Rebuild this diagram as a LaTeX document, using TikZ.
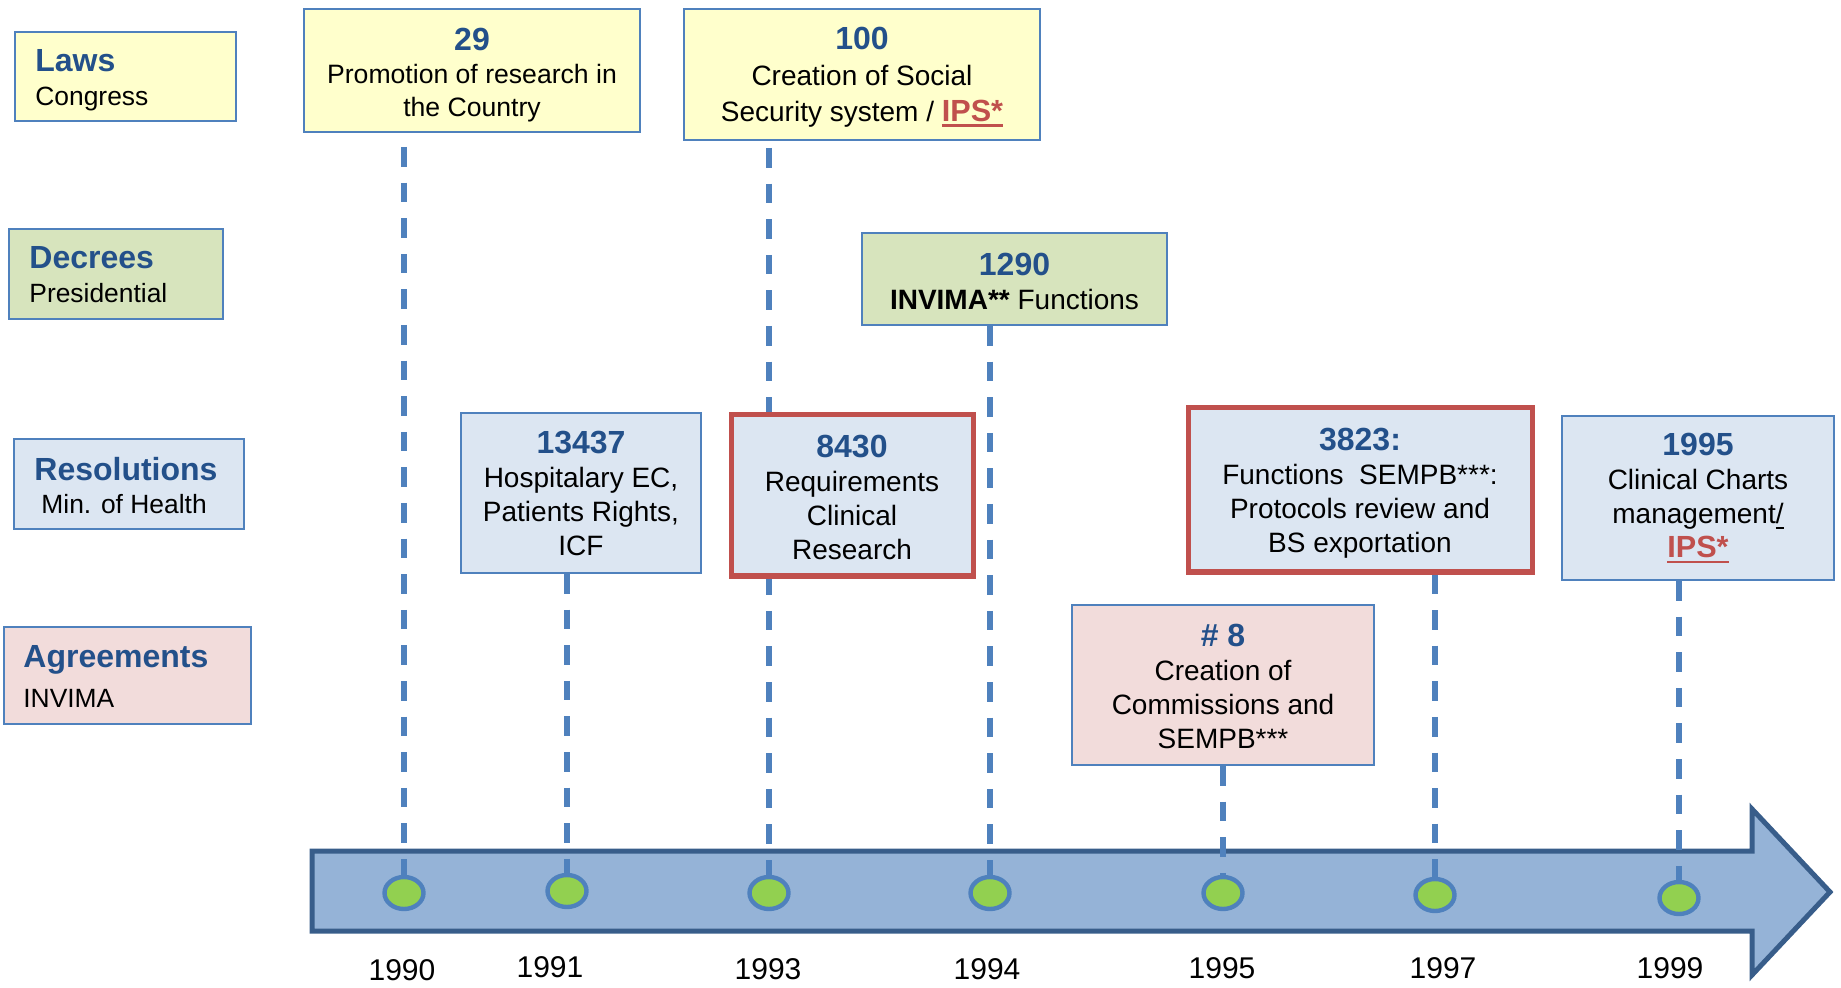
\documentclass[tikz,border=0pt]{standalone}
\usepackage{fontspec}
\setmainfont{Liberation Sans}
\usetikzlibrary{shapes.geometric}
\definecolor{lawfill}{HTML}{FFFFCC}
\definecolor{decfill}{HTML}{D7E4BD}
\definecolor{resfill}{HTML}{DCE6F2}
\definecolor{agrfill}{HTML}{F2DCDB}
\definecolor{boxline}{HTML}{4F81BD}
\definecolor{boxred}{HTML}{C0504D}
\definecolor{titleblue}{HTML}{23508A}
\definecolor{arrowfill}{HTML}{95B3D7}
\definecolor{arrowline}{HTML}{385D8A}
\definecolor{dotgreen}{HTML}{92D050}
\newcommand\numf[1]{{\fontsize{16}{17}\selectfont\bfseries\color{titleblue}#1}}
\newcommand\ulmark[1]{\setbox0\hbox{#1}\rlap{\rule[-2.8pt]{\wd0}{1.3pt}}\box0}
\newcommand\ipsmark{{\color{boxred}\fontsize{15.3}{17}\selectfont\bfseries\ulmark{IPS*}}}
\pgfdeclarelayer{bg}
\pgfdeclarelayer{mid}
\pgfsetlayers{bg,mid,main}
\tikzset{
  catbox/.style={draw=boxline, line width=1pt, inner sep=0pt},
  cattitle/.style={anchor=base west, inner sep=0pt, font=\fontsize{16}{18}\selectfont\bfseries, text=titleblue},
  catsub/.style={anchor=base west, inner sep=0pt, font=\fontsize{13.2}{16}\selectfont},
  evbox/.style={draw=boxline, line width=1pt, inner sep=0pt},
  redbox/.style={evbox, draw=boxred, line width=2.5pt},
  evtext/.style={inner sep=0pt, align=center, font=\fontsize{14}{17}\selectfont},
  dashline/.style={draw=boxline, line width=2.6pt, dash pattern=on 9.8pt off 8pt},
  dot/.style={ellipse, draw=boxline, fill=dotgreen, line width=2.2pt, minimum width=19.5pt, minimum height=16pt, inner sep=0pt},
  yearlbl/.style={anchor=base, inner sep=0pt, font=\fontsize{15}{17}\selectfont},
  timeline/.style={draw=arrowline, fill=arrowfill, line width=2.5pt, line join=miter}
}
\begin{document}
\begin{tikzpicture}[x=0.5pt, y=-0.5pt]
\useasboundingbox (0,0) rectangle (1841,988);
% timeline arrow
\begin{pgfonlayer}{bg}
\draw[timeline] (312,851) -- (1752,851) -- (1752,809) -- (1830,892) -- (1752,975) -- (1752,931) -- (312,931) -- cycle;
\end{pgfonlayer}
% category boxes
\node[catbox, fill=lawfill, minimum width=110.5pt, minimum height=44.5pt] (cLaws) at (125.5,76.5) {};
\node[cattitle] (tLaws) at (35,72) {Laws};
\node[catsub] (sLaws) at (35,106) {Congress};
\node[catbox, fill=decfill, minimum width=107pt, minimum height=45pt] (cDec) at (116,274) {};
\node[cattitle] (tDec) at (29,269) {Decrees};
\node[catsub] (sDec) at (29,303) {Presidential};
\node[catbox, fill=resfill, minimum width=115pt, minimum height=45pt] (cRes) at (129,484) {};
\node[cattitle] (tRes) at (34,481) {Resolutions};
\node[catsub] (sRes) at (41,514) {Min. of Health};
\node[catbox, fill=agrfill, minimum width=123.5pt, minimum height=48.5pt] (cAgr) at (127.5,675.5) {};
\node[cattitle] (tAgr) at (23,667) {Agreements};
\node[catsub] (sAgr) at (23,707) {INVIMA};
% event boxes
\node[evbox, fill=lawfill, minimum width=168pt, minimum height=61.5pt] (b29) at (472,70.5) {};
\node[evtext, font=\fontsize{13.3}{16.5}\selectfont] (t29) at (472,75.5)
  {\numf{29}\\Promotion of research in\\the Country};
\node[evbox, fill=lawfill, minimum width=178pt, minimum height=65.5pt] (b100) at (862,74.5) {};
\node[evtext, font=\fontsize{14}{18}\selectfont] (t100) at (862,77)
  {\numf{100}\\Creation of Social\\Security system / \ipsmark};
\node[evbox, fill=decfill, minimum width=152.5pt, minimum height=46pt] (b1290) at (1014.5,279) {};
\node[evtext] (t1290) at (1014.5,281.5)
  {\numf{1290}\\\textbf{INVIMA**} Functions};
\node[evbox, fill=resfill, minimum width=120pt, minimum height=80pt] (b13437) at (581,493) {};
\node[evtext] (t13437) at (581,493.5)
  {\numf{13437}\\Hospitalary EC,\\Patients Rights,\\ICF};
\node[redbox, fill=resfill, minimum width=121pt, minimum height=80.5pt] (b8430) at (852,495.5) {};
\node[evtext] (t8430) at (852,497)
  {\numf{8430}\\Requirements\\Clinical\\Research};
\node[redbox, fill=resfill, minimum width=172pt, minimum height=82pt] (b3823) at (1360,490) {};
\node[evtext] (t3823) at (1360,493.5)
  {\numf{3823:}\\Functions\ \ SEMPB***:\\Protocols review and\\BS exportation};
\node[evbox, fill=resfill, minimum width=136pt, minimum height=82pt] (b1995) at (1698,498) {};
\node[evtext] (t1995) at (1698,498.5)
  {\numf{1995}\\Clinical Charts\\management\ulmark{/}\\\ipsmark};
\node[evbox, fill=agrfill, minimum width=151pt, minimum height=80pt] (b8) at (1223,685) {};
\node[evtext] (t8) at (1223,686)
  {\numf{\# 8}\\Creation of\\Commissions and\\SEMPB***};
% dots
\node[dot] (d1990) at (404,893) {};
\node[dot] (d1991) at (567,891) {};
\node[dot] (d1993) at (769,893) {};
\node[dot] (d1994) at (990,893) {};
\node[dot] (d1995) at (1223,893) {};
\node[dot] (d1997) at (1435,895) {};
\node[dot] (d1999) at (1679,898) {};
% connectors
\begin{pgfonlayer}{mid}
\draw[dashline, shorten <=7pt] (d1990.north |- b29.south) -- (d1990.north);
\draw[dashline] (d1991.north |- b13437.south) -- (d1991.north);
\draw[dashline, shorten <=3.5pt] (d1993.north |- b100.south) -- (d1993.north);
\draw[dashline] (d1994.north |- b1290.south) -- (d1994.north);
\draw[dashline] (d1995.north |- b8.south) -- (d1995.north);
\draw[dashline] (d1997.north |- b3823.south) -- (d1997.north);
\draw[dashline] (d1999.north |- b1995.south) -- (d1999.north);
\end{pgfonlayer}
% years
\node[yearlbl] (y1990) at (402,980) {1990};
\node[yearlbl] (y1991) at (550,977) {1991};
\node[yearlbl] (y1993) at (768,979) {1993};
\node[yearlbl] (y1994) at (987,979) {1994};
\node[yearlbl] (y1995) at (1222,978) {1995};
\node[yearlbl] (y1997) at (1443,978) {1997};
\node[yearlbl] (y1999) at (1670,978) {1999};
\end{tikzpicture}
\end{document}
